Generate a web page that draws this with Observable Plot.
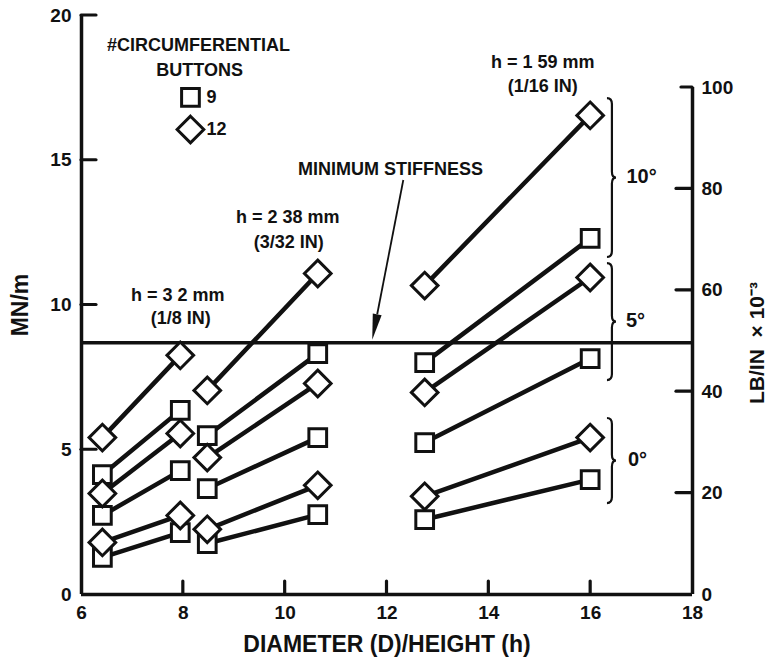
<!DOCTYPE html>
<html><head><meta charset="utf-8">
<script src="https://cdn.jsdelivr.net/npm/d3@7"></script>
<script src="https://cdn.jsdelivr.net/npm/@observablehq/plot@0.6"></script>
<style>body{margin:0;background:#fff;} svg{display:block}</style>
</head><body><div id="chart"></div>
<script>
// ---- data (MN/m vs D/h) ----
const heights = ["3.2 mm", "2.38 mm", "1.59 mm"];
const xLow = [6.41, 8.47, 12.74];   // D/h of the smaller diameter
const xHigh = [7.94, 10.64, 15.99]; // D/h of the larger diameter
const angles = [10, 10, 5, 5, 0, 0];
const buttons = [12, 9, 12, 9, 12, 9];
const yLow32 = [5.42, 4.14, 3.49, 2.73, 1.80, 1.28];
const yHigh32 = [8.26, 6.36, 5.56, 4.28, 2.73, 2.14];
const yLow238 = [7.05, 5.49, 4.73, 3.66, 2.25, 1.76];
const yHigh238 = [11.09, 8.32, 7.29, 5.42, 3.77, 2.76];
const yLow159 = [10.67, 8.01, 6.98, 5.25, 3.39, 2.59];
const yHigh159 = [16.55, 12.30, 10.95, 8.15, 5.42, 3.97];
const yLow = [yLow32, yLow238, yLow159];
const yHigh = [yHigh32, yHigh238, yHigh159];

const minStiffness = 8.70;

// ticks
const xTicks = [6, 8, 10, 12, 14, 16, 18];
const xTickMarks = [8, 10, 12, 14, 16];
const yTicks = [0, 5, 10, 15, 20];
const yTickMarks = [5, 10, 15, 20];
const lbTicks = [0, 20, 40, 60, 80, 100];
const lbTickMarks = [20, 40, 60, 80, 100];
const lbToMN = 0.17513; // 1000 lb/in in MN/m

// braces for cone angle
const braceLabels = ["10°", "5°", "0°"];
const braceTop = [17.13, 11.43, 6.08];
const braceBottom = [11.64, 7.39, 3.14];
const braceX = 16.33;
const braceLabelX = [17.0, 16.88, 16.92];
const braceLabelY = [14.45, 9.45, 4.65];

// annotations
const noteText = ["#CIRCUMFERENTIAL", "BUTTONS", "h = 3 2 mm", "(1/8 IN)", "h = 2 38 mm", "(3/32 IN)", "h = 1 59 mm", "(1/16 IN)", "MINIMUM STIFFNESS"];
const noteX = [8.30, 8.32, 7.89, 7.95, 10.05, 10.07, 15.06, 15.06, 12.07];
const noteY = [18.96, 18.10, 10.33, 9.53, 13.02, 12.16, 18.38, 17.55, 14.68];

const legendButtons = [9, 12];
const legendX = 8.14;
const legendY = [17.17, 16.06];

const arrowFrom = {x: 12.33, y: 14.3};
const arrowTo = {x: 11.72, y: 8.78};

// ---- build tables ----
const points = [];
heights.forEach((h, g) => {
  angles.forEach((a, i) => {
    const id = `${h}-${a}-${buttons[i]}`;
    points.push({id, h, angle: a, buttons: buttons[i], x: xLow[g], y: yLow[g][i]});
    points.push({id, h, angle: a, buttons: buttons[i], x: xHigh[g], y: yHigh[g][i]});
  });
});
const notes = noteText.map((t, i) => ({t, x: noteX[i], y: noteY[i]}));
const braces = braceLabels.map((l, i) => ({l, top: braceTop[i], bottom: braceBottom[i], lx: braceLabelX[i], ly: braceLabelY[i]}));
const legend = legendButtons.map((b, i) => ({b, x: legendX, y: legendY[i]}));

const FONT = "'Liberation Sans', Arial, Helvetica, sans-serif";
const INK = "#111";

function braceMark(index, scales) {
  const g = d3.create("svg:g").attr("fill", "none").attr("stroke", INK).attr("stroke-width", 2.2);
  const w = 9;
  for (const b of braces) {
    const x0 = scales.x(braceX);
    const y0 = scales.y(b.top), y1 = scales.y(b.bottom);
    const m = (y0 + y1) / 2, r = 6;
    const xm = x0 + w * 0.55;
    const p = `M${x0},${y0} Q${xm},${y0} ${xm},${y0 + r} L${xm},${m - r} Q${xm},${m} ${x0 + w},${m} Q${xm},${m} ${xm},${m + r} L${xm},${y1 - r} Q${xm},${y1} ${x0},${y1}`;
    g.append("path").attr("d", p);
  }
  return g.node();
}

// inward tick marks drawn through the scales
function tickMarks(index, scales) {
  const {x, y} = scales;
  const g = d3.create("svg:g").attr("stroke", INK).attr("stroke-width", 3.2).attr("stroke-linecap", "round");
  for (const v of xTickMarks) g.append("line").attr("x1", x(v)).attr("x2", x(v)).attr("y1", y(0)).attr("y2", y(0) - 13);
  for (const v of yTickMarks) g.append("line").attr("x1", x(6)).attr("x2", x(6) + 15).attr("y1", y(v)).attr("y2", y(v));
  for (const v of lbTickMarks) g.append("line").attr("x1", x(18)).attr("x2", x(18) - (v === 100 ? 11 : 16)).attr("y1", y(v * lbToMN)).attr("y2", y(v * lbToMN));
  return g.node();
}

// arrow with a filled narrow head
function arrowMark(index, scales) {
  const {x, y} = scales;
  const x1 = x(arrowFrom.x), y1 = y(arrowFrom.y), x2 = x(arrowTo.x), y2 = y(arrowTo.y);
  const dx = x2 - x1, dy = y2 - y1, len = Math.hypot(dx, dy);
  const ux = dx / len, uy = dy / len, hl = 26, hw = 4.5;
  const bx = x2 - ux * hl, by = y2 - uy * hl;
  const g = d3.create("svg:g");
  g.append("line").attr("x1", x1).attr("y1", y1).attr("x2", bx).attr("y2", by).attr("stroke", INK).attr("stroke-width", 1.8);
  g.append("path").attr("d", `M${x2},${y2} L${bx - uy * hw},${by + ux * hw} L${bx + uy * hw},${by - ux * hw} Z`).attr("fill", INK);
  return g.node();
}

const chart = Plot.plot({
  width: 771,
  height: 658,
  marginLeft: 81,
  marginRight: 79,
  marginTop: 15,
  marginBottom: 64,
  x: {domain: [6, 18]},
  y: {domain: [0, 20]},
  style: {fontFamily: FONT, color: INK, background: "#fff"},
  marks: [
    // axis lines
    Plot.ruleX([6], {y1: 0, y2: 20, strokeWidth: 3.5, stroke: INK}),
    Plot.ruleX([18], {y1: 0, y2: 100 * lbToMN, strokeWidth: 3.5, stroke: INK}),
    Plot.ruleY([0], {x1: 6, x2: 18, strokeWidth: 3.5, stroke: INK}),
    tickMarks,
    // tick labels
    Plot.axisX(xTicks, {tickSize: 0, tickPadding: 11, fontSize: 19, fontWeight: "bold", fill: INK, label: null}),
    Plot.axisY(yTicks, {tickSize: 0, tickPadding: 10, fontSize: 19, fontWeight: "bold", fill: INK, label: null}),
    Plot.axisY(lbTicks.map(v => v * lbToMN), {anchor: "right", tickSize: 0, tickPadding: 9, fontSize: 19, fontWeight: "bold", fill: INK, label: null, tickFormat: d => String(Math.round(d / lbToMN))}),
    // axis titles
    Plot.text(["DIAMETER (D)/HEIGHT (h)"], {frameAnchor: "bottom", dy: 50, textAnchor: "middle", lineAnchor: "middle", fontSize: 23, fontWeight: "bold", fill: INK, style: "letter-spacing:1px"}),
    Plot.text(["MN/m"], {frameAnchor: "left", dx: -61, rotate: -90, textAnchor: "middle", lineAnchor: "middle", fontSize: 23, fontWeight: "bold", fill: INK}),
    Plot.text(["LB/IN  × 10⁻³"], {frameAnchor: "right", dx: 65, dy: 38, rotate: -90, textAnchor: "middle", lineAnchor: "middle", fontSize: 21, fontWeight: "bold", fill: INK}),
    // minimum stiffness line
    Plot.ruleY([minStiffness], {x1: 6, x2: 18, strokeWidth: 3.5, stroke: INK}),
    // data lines
    Plot.line(points, {x: "x", y: "y", z: "id", stroke: INK, strokeWidth: 4.5}),
    // markers
    Plot.dot(points.filter(d => d.buttons === 9), {x: "x", y: "y", symbol: "square", r: 10, fill: "white", stroke: INK, strokeWidth: 3}),
    Plot.dot(points.filter(d => d.buttons === 12), {x: "x", y: "y", symbol: "diamond2", r: 12, fill: "white", stroke: INK, strokeWidth: 3}),
    // legend
    Plot.dot(legend.filter(d => d.b === 9), {x: "x", y: "y", symbol: "square", r: 10, fill: "white", stroke: INK, strokeWidth: 3}),
    Plot.dot(legend.filter(d => d.b === 12), {x: "x", y: "y", symbol: "diamond2", r: 12, fill: "white", stroke: INK, strokeWidth: 3}),
    Plot.text(legend, {x: "x", y: "y", text: d => String(d.b), dx: 16, textAnchor: "start", fontSize: 18, fontWeight: "bold", fill: INK}),
    // annotations
    Plot.text(notes, {x: "x", y: "y", text: "t", fontSize: 18, fontWeight: "bold", fill: INK, style: "letter-spacing:0.5px"}),
    arrowMark,
    // braces and angle labels
    braceMark,
    Plot.text(braces, {x: "lx", y: "ly", text: "l", fontSize: 20, fontWeight: "bold", fill: INK})
  ]
});
document.getElementById("chart").appendChild(chart);
</script>
</body></html>
